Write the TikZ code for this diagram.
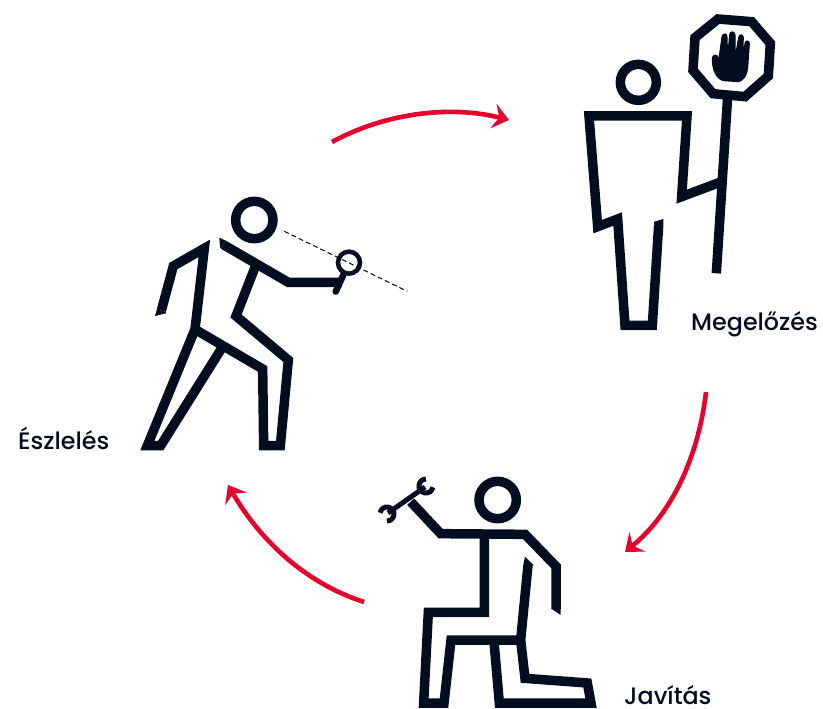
\documentclass[tikz,border=0pt]{standalone}
\usepackage{fontspec}
\newfontfamily\labfont{Poppins Medium}
\usetikzlibrary{arrows.meta}
\definecolor{ink}{HTML}{020E20}
\definecolor{redarc}{HTML}{E8002D}
\tikzset{
  fig/.style={draw=ink,line width=9.5pt,miter limit=10,line join=miter,fill=none},
  tipcut/.style={fill=ink,draw=none},
  jaw/.style={draw=ink,line width=5pt},
  arc/.style={draw=redarc,line width=4.6pt,-{Stealth[length=16pt,width=25pt,inset=6pt]}},
  lab/.style={font=\labfont\fontsize{23.8}{28}\selectfont,text=ink,inner sep=0pt},
  zoomA/.style={xshift=140pt,yshift=-190pt,x=.33333pt,y=-.33333pt},
  zoomB/.style={xshift=575pt,yshift=-5pt,x=.33333pt,y=-.33333pt},
  zoomC/.style={xshift=370pt,yshift=-465pt,x=.33333pt,y=-.33333pt},
}
\begin{document}
\begin{tikzpicture}[x=1pt,y=-1pt]
\useasboundingbox (0,0) rectangle (823,709);
% person 1
\begin{scope}[zoomA]
\draw[fig] (343,90) circle (56);
\draw[fig] (64,362) -- (100,228) -- (193,175) -- (165,418) -- (22,767) -- (62,767) -- (243,478);
\fill[tipcut] (50.5,358.4) -- (77.5,365.6) -- (78,370) -- (45,378) -- cycle;
\draw[fig] (165,418) -- (368,537) -- (371,767) -- (421,767) -- (445,510) -- (288,378) -- (345,232);
\draw[fig] (250,164) -- (445,277) -- (605,277);
\fill[tipcut] (238,143) -- (257,152) -- (243,176) -- (240,172) -- cycle;
\draw[fig,line cap=round,line width=6.5pt] (610,255) -- (587,305);
\draw[fig,line width=4.5pt] (627,218) circle (33);
\draw[ink,line width=1pt,dash pattern=on 5pt off 3pt] (433,124) -- (802,304);
\end{scope}
% person 2
\begin{scope}[zoomB]
\draw[fig] (190,232) circle (54);
\draw[fig] (251,660) -- (232,961) -- (150,961) -- (128,642) -- (68,665) -- (42,333) -- (336,333) -- (320,575) -- (440,530);
\fill[tipcut] (237,659) -- (265,661) -- (265,642) -- (238,650) -- cycle;
\draw[fig] (424,805) -- (458,275);
\draw[fig] (429,42) -- (530,50) -- (586,115) -- (580,213) -- (510,275) -- (414,266) -- (354,196) -- (360,98) -- cycle;
\path[fill=ink,draw=ink,line width=1pt,line join=round]
  (412,160) .. controls (412,148) and (428,146) .. (429,158) -- (432,160) -- (441,95)
  .. controls (443,84) and (457,84) .. (456,96) -- (458,155) -- (464,88)
  .. controls (465,78) and (480,78) .. (480,90) -- (481,155) -- (491,97)
  .. controls (492,86) and (506,88) .. (505,98) -- (503,160) -- (510,115)
  .. controls (511,104) and (525,106) .. (523,118) -- (518,190)
  .. controls (516,210) and (505,228) .. (490,230) -- (445,227)
  .. controls (425,222) and (411,195) .. (412,160) -- cycle;
\end{scope}
% person 3
\begin{scope}[zoomC]
\draw[fig] (383,105) circle (56);
\draw[fig] (122,110) -- (212,206) -- (465,208) -- (558,304) -- (558,432);
\fill[tipcut] (544,431) -- (572,431) -- (572,450) -- cycle;
\draw[fig] (343,208) -- (343,442) -- (175,442) -- (161,714) -- (222,714) -- (243,525) -- (452,525);
\draw[fig] (474,300) -- (452,525) -- (465,640) -- (652,654) -- (663,714) -- (388,714) -- (372,530);
\fill[tipcut] (460,299) -- (488,303) -- (490,300) -- (465,275) -- cycle;
\end{scope}
% wrench
\draw[jaw] (388,513) -- (425,487);
\draw[jaw] ([shift={(10:7)}]426,486) arc[start angle=10,end angle=270,radius=7];
\draw[jaw] ([shift={(190:7)}]387,514) arc[start angle=190,end angle=450,radius=7];
% labels
\node[lab,anchor=base west] (detect) at (18,449) {Észlelés};
\node[lab,anchor=base west] (prevent) at (691,330) {Megelőzés};
\node[lab,anchor=base west] (repair) at (624,704.5) {Javítás};
% arrows
\coordinate (a1) at (332,142);
\coordinate (a2) at (509,120);
\coordinate (b1) at (706,392);
\coordinate (b2) at (625,552);
\coordinate (c1) at (364,602);
\coordinate (c2) at (228,485);
\draw[arc] (a1) .. controls (385,113) and (450,105) .. (a2);
\draw[arc] (b1) .. controls (698,460) and (670,515) .. (b2);
\draw[arc] (c1) .. controls (305,583) and (260,540) .. (c2);
\end{tikzpicture}
\end{document}
